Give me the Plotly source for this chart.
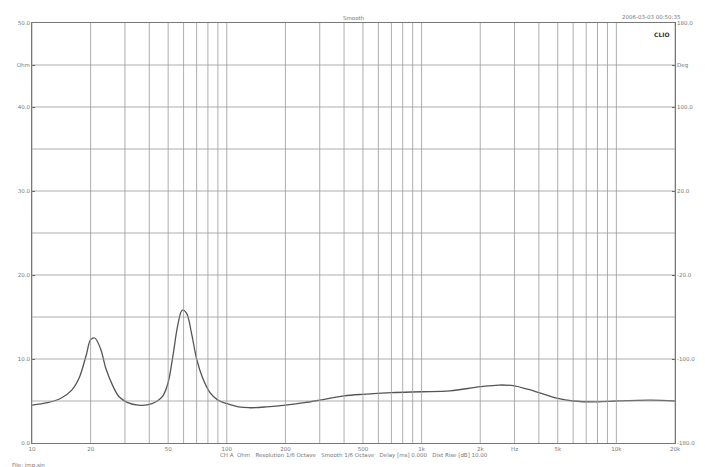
import plotly.graph_objects as go

# impedance curve
freq = [10, 12, 14, 16, 17.5, 19, 20, 21, 22.5, 24, 26, 28, 31, 35, 40, 44, 47, 50, 53, 56, 59, 62, 66, 70, 75, 82, 90, 100, 115, 130,
        160, 200, 250, 300, 400, 500, 700, 1000, 1400, 2000, 2500, 3000, 3500, 4000, 5000, 6000, 8000, 10000, 15000, 20000]
ohm = [4.5, 4.8, 5.3, 6.3, 7.8, 10.5, 12.3, 12.5, 11.2, 8.8, 6.8, 5.5, 4.8, 4.5, 4.6, 5.0, 5.6, 7.2, 10.5, 14.0, 15.8, 15.5, 13.0, 10.0, 7.8, 6.0, 5.1, 4.7, 4.3, 4.2,
       4.3, 4.5, 4.8, 5.1, 5.6, 5.8, 6.0, 6.1, 6.2, 6.7, 6.9, 6.8, 6.4, 6.0, 5.3, 5.0, 4.9, 5.0, 5.1, 5.0]

x_tickvals = [10, 20, 50, 100, 200, 500, 1000, 2000, 3000, 5000, 10000, 20000]
x_ticktext = ["10", "20", "50", "100", "200", "500", "1k", "2k", "Hz", "5k", "10k", "20k"]
grid_x = [m * 10 ** d for d in range(1, 5) for m in range(1, 10) if m * 10 ** d <= 20000]
y_tickvals = [0, 10, 20, 30, 40, 45, 50]
y_ticktext = ["0.0", "10.0", "20.0", "30.0", "40.0", "Ohm", "50.0"]
r_tickvals = [0, 10, 20, 30, 40, 45, 50]
r_ticktext = ["-180.0", "-100.0", "-20.0", "20.0", "100.0", "Deg", "180.0"]

fig = go.Figure()
fig.add_trace(go.Scatter(x=freq, y=ohm, mode="lines", line=dict(color="#555555", width=1.3, shape="spline"),
                         showlegend=False))
fig.add_trace(go.Scatter(x=[10, 20000], y=[0, 50], mode="markers", marker=dict(opacity=0), yaxis="y2",
                         showlegend=False, hoverinfo="skip"))

for gx in grid_x:
    fig.add_shape(type="line", x0=gx, x1=gx, y0=0, y1=50, xref="x", yref="y", line=dict(color="#999999", width=0.8))
for gy in range(5, 50, 5):
    fig.add_shape(type="line", x0=10, x1=20000, y0=gy, y1=gy, xref="x", yref="y", line=dict(color="#999999", width=0.8))

font = dict(family="DejaVu Sans", size=5.5, color="#777777")
fig.update_layout(
    width=705, height=467, paper_bgcolor="white", plot_bgcolor="white",
    margin=dict(l=24, r=38, t=15, b=32),
    font=font,
    xaxis=dict(type="log", range=[1, 4.301], tickvals=x_tickvals, ticktext=x_ticktext, showgrid=False,
               tickfont=font, showline=True, linecolor="#777777", mirror=True, ticks="", zeroline=False,
               automargin=False),
    yaxis=dict(range=[0, 50], tickvals=y_tickvals, ticktext=y_ticktext, showline=True, linecolor="#777777",
               tickfont=font, showgrid=False, zeroline=False, ticks="inside", ticklen=3, automargin=False),
    yaxis2=dict(range=[0, 50], overlaying="y", side="right", tickvals=r_tickvals, ticktext=r_ticktext,
                tickfont=font, showgrid=False, ticks="inside", ticklen=3, showline=True, linecolor="#777777",
                zeroline=False, automargin=False),
)

fig.add_annotation(text="Smooth", x=0.5, y=1.0, xref="paper", yref="paper", yanchor="bottom", showarrow=False, font=font)
fig.add_annotation(text="2006-03-03 00:50:35", x=1.0, y=1.0, xref="paper", yref="paper", xanchor="right",
                   xshift=8, yanchor="bottom", yshift=1, showarrow=False, font=font)
fig.add_annotation(text="<b>CLIO</b>", x=0.995, y=0.985, xref="paper", yref="paper", xanchor="right",
                   yanchor="top", showarrow=False, font=dict(family="DejaVu Sans", size=6, color="#333333"))
fig.add_annotation(text="CH A  Ohm   Resolution 1/6 Octave   Smooth 1/6 Octave   Delay [ms] 0.000   Dist Rise [dB] 10.00",
                   x=0.5, y=0, xref="paper", yref="paper", yanchor="middle", yshift=-12, showarrow=False, font=font)
fig.add_annotation(text="File: imp.sin", x=0, y=0, xref="paper", yref="paper", xanchor="left",
                   yanchor="middle", yshift=-22, xshift=-22, showarrow=False, font=font)

fig.write_html("out.html")
